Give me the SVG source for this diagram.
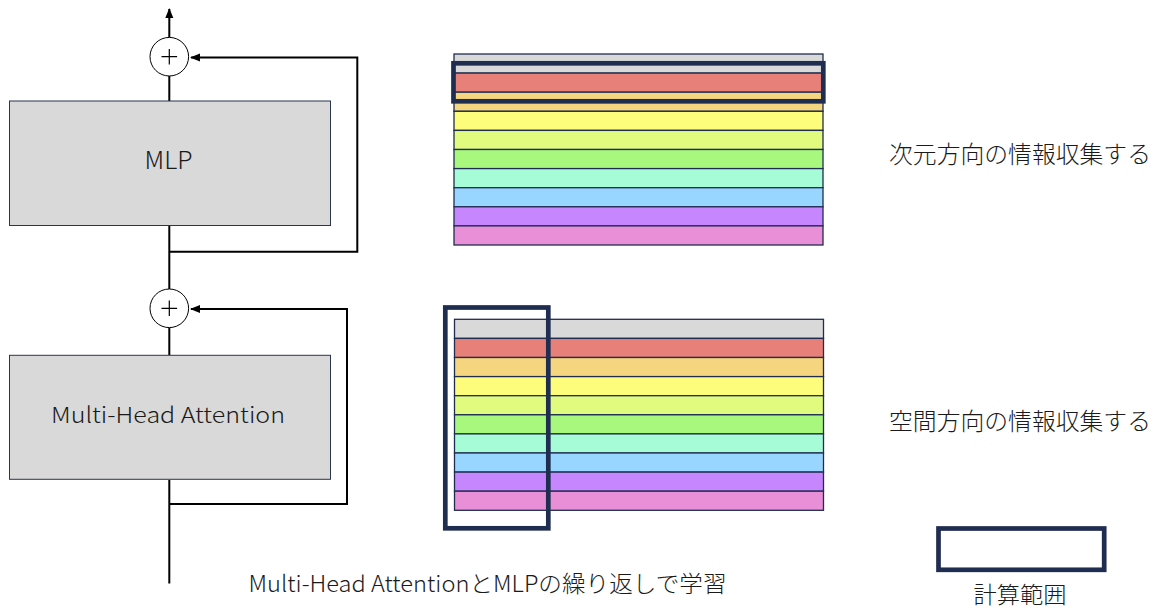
<svg xmlns="http://www.w3.org/2000/svg" width="1166" height="614" viewBox="0 0 1166 614">
<style>
.box{fill:#d9d9d9;stroke:#2a3550;stroke-width:1}
.sum{fill:#fff;stroke:#000;stroke-width:1}
.plus{stroke:#000;stroke-width:1.2;fill:none}
.wire{fill:none;stroke:#000;stroke-width:2}
.row{stroke:#1f2d50;stroke-width:1.3}
.sel{fill:none;stroke:#1f2d50;stroke-width:4.7}
.lbl{font-family:"Noto Sans CJK JP","Noto Sans",sans-serif;font-weight:300;fill:#1a1a1a}
</style>
<defs>
<marker id="ah" markerUnits="userSpaceOnUse" markerWidth="10" markerHeight="10" viewBox="0 0 10 10" refX="9" refY="5" orient="auto">
<path d="M0,1 L10,5 L0,9 Z" fill="#000"/>
</marker>
</defs>
<rect width="1166" height="614" fill="#fff"/>

<g id="connectors">
<line class="wire" x1="169.3" y1="37.5" x2="169.3" y2="9" marker-end="url(#ah)"/>
<line class="wire" x1="169.3" y1="76" x2="169.3" y2="101"/>
<line class="wire" x1="169.3" y1="226" x2="169.3" y2="289"/>
<polyline class="wire" points="169.3,251.7 357.3,251.7 357.3,57.5 191,57.5" marker-end="url(#ah)"/>
<line class="wire" x1="169.3" y1="328" x2="169.3" y2="355"/>
<line class="wire" x1="169.3" y1="480" x2="169.3" y2="583.5"/>
<polyline class="wire" points="169.3,504 347,504 347,309 191,309" marker-end="url(#ah)"/>
</g>

<g id="sum-top">
<circle class="sum" cx="169.3" cy="56.7" r="19.3"/>
<path class="plus" d="M161.5,56.7 H177.1 M169.3,48.9 V64.5"/>
</g>
<g id="mlp">
<rect class="box" x="9.5" y="101" width="321" height="124.5"/>
<text class="lbl" x="144.5" y="169.3" font-size="24" textLength="48" lengthAdjust="spacingAndGlyphs">MLP</text>
</g>
<g id="sum-bottom">
<circle class="sum" cx="169.3" cy="308.3" r="19.3"/>
<path class="plus" d="M161.5,308.3 H177.1 M169.3,300.5 V316.1"/>
</g>
<g id="mha">
<rect class="box" x="9.5" y="355.3" width="321" height="124"/>
<text class="lbl" x="51" y="423.3" font-size="22" textLength="234" lengthAdjust="spacingAndGlyphs">Multi-Head Attention</text>
</g>

<g id="stack-top">
<rect class="row" x="454" y="54" width="369" height="19.1" fill="#d9d9d9"/>
<rect class="row" x="454" y="73.1" width="369" height="19.1" fill="#e8807a"/>
<rect class="row" x="454" y="92.2" width="369" height="19.1" fill="#f5d57e"/>
<rect class="row" x="454" y="111.3" width="369" height="19.1" fill="#fdfc7b"/>
<rect class="row" x="454" y="130.4" width="369" height="19.1" fill="#e0fb7e"/>
<rect class="row" x="454" y="149.5" width="369" height="19.1" fill="#a8f87d"/>
<rect class="row" x="454" y="168.6" width="369" height="19.1" fill="#a7fcd8"/>
<rect class="row" x="454" y="187.7" width="369" height="19.1" fill="#99d6ff"/>
<rect class="row" x="454" y="206.8" width="369" height="19.1" fill="#c687fe"/>
<rect class="row" x="454" y="225.9" width="369" height="19.1" fill="#e88fd8"/>
<rect class="sel" x="453.5" y="63.3" width="369.8" height="38"/>
</g>

<g id="stack-bottom">
<rect class="row" x="454.5" y="319.3" width="369" height="19.1" fill="#d9d9d9"/>
<rect class="row" x="454.5" y="338.4" width="369" height="19.1" fill="#e8807a"/>
<rect class="row" x="454.5" y="357.5" width="369" height="19.1" fill="#f5d57e"/>
<rect class="row" x="454.5" y="376.6" width="369" height="19.1" fill="#fdfc7b"/>
<rect class="row" x="454.5" y="395.7" width="369" height="19.1" fill="#e0fb7e"/>
<rect class="row" x="454.5" y="414.8" width="369" height="19.1" fill="#a8f87d"/>
<rect class="row" x="454.5" y="433.9" width="369" height="19.1" fill="#a7fcd8"/>
<rect class="row" x="454.5" y="453" width="369" height="19.1" fill="#99d6ff"/>
<rect class="row" x="454.5" y="472.1" width="369" height="19.1" fill="#c687fe"/>
<rect class="row" x="454.5" y="491.2" width="369" height="19.1" fill="#e88fd8"/>
<rect class="sel" x="445.3" y="307.5" width="103" height="220.8"/>
</g>

<g id="label-dim">
<text class="lbl" x="889" y="163.3" font-size="23.5" textLength="262" lengthAdjust="spacingAndGlyphs">次元方向の情報収集する</text>
</g>
<g id="label-space">
<text class="lbl" x="889" y="430" font-size="23.5" textLength="262" lengthAdjust="spacingAndGlyphs">空間方向の情報収集する</text>
</g>
<g id="caption">
<text class="lbl" x="248.5" y="591.7" font-size="22.5" textLength="478" lengthAdjust="spacingAndGlyphs">Multi-Head AttentionとMLPの繰り返しで学習</text>
</g>
<g id="legend">
<rect class="sel" x="938.5" y="528.5" width="165.7" height="41.3" stroke-width="5"/>
<text class="lbl" x="973.5" y="603" font-size="23" textLength="93" lengthAdjust="spacingAndGlyphs">計算範囲</text>
</g>
</svg>
